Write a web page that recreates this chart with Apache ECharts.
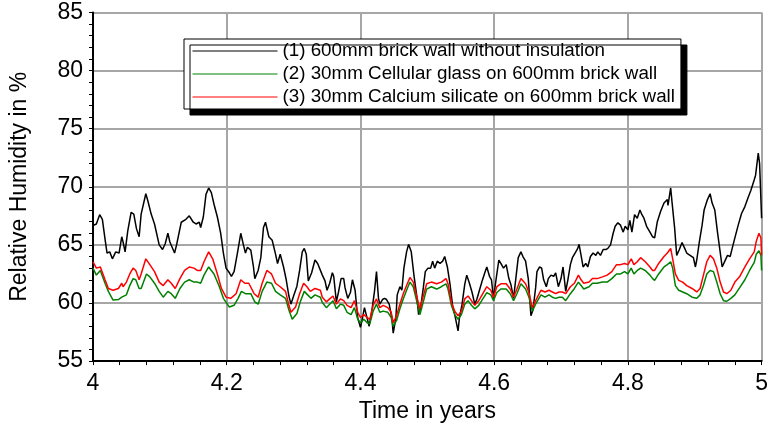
<!DOCTYPE html>
<html>
<head>
<meta charset="utf-8">
<script src="https://cdn.jsdelivr.net/npm/echarts@6/dist/echarts.min.js"></script>
<style>html,body{margin:0;padding:0;background:#fff}#c{width:771px;height:428px}</style>
</head>
<body>
<div id="c"></div>
<script>
const seriesNames = [
  '(1) 600mm brick wall without insulation',
  '(2) 30mm Cellular glass on 600mm brick wall',
  '(3) 30mm Calcium silicate on 600mm brick wall'
];
const xTicks = [4, 4.2, 4.4, 4.6, 4.8, 5];
const yTicks = [55, 60, 65, 70, 75, 80, 85];

const timeBrick = [4.000,4.005,4.010,4.014,4.018,4.021,4.025,4.029,4.034,4.039,4.043,4.045,4.048,4.052,4.057,4.061,4.065,4.069,4.072,4.079,4.082,4.087,4.092,4.099,4.104,4.108,4.112,4.115,4.122,4.125,4.132,4.139,4.144,4.150,4.154,4.159,4.161,4.165,4.169,4.173,
4.177,4.181,4.186,4.191,4.195,4.199,4.204,4.207,4.211,4.216,4.221,4.225,4.228,4.231,4.236,4.240,4.242,4.247,4.251,4.255,4.258,4.263,4.268,4.273,4.276,4.280,4.285,4.289,4.293,4.296,4.300,4.305,4.309,4.313,4.316,4.319,4.322,4.327,4.332,4.336,
4.343,4.347,4.350,4.354,4.358,4.360,4.364,4.367,4.371,4.375,4.377,4.381,4.385,4.388,4.392,4.396,4.400,4.402,4.406,4.410,4.413,4.417,4.421,4.424,4.427,4.429,4.433,4.436,4.439,4.443,4.447,4.449,4.453,4.455,4.459,4.462,4.465,4.469,4.472,4.476,4.480,4.484,4.487,4.490,4.494,4.497,4.501,
4.505,4.508,4.511,4.515,4.519,4.523,4.526,4.530,4.534,4.538,4.541,4.546,4.548,4.552,4.556,4.559,4.563,4.567,4.571,4.574,4.578,4.582,4.586,4.589,4.593,4.596,4.599,4.603,4.607,4.610,4.614,4.618,4.622,4.625,4.629,4.633,4.636,4.640,4.643,4.647,4.651,4.655,4.658,4.662,
4.664,4.668,4.671,4.674,4.678,4.681,4.685,4.689,4.692,4.696,4.700,4.703,4.707,4.710,4.714,4.717,4.721,4.725,4.727,4.730,4.733,4.737,4.740,4.744,4.748,4.752,4.755,4.759,4.763,4.767,4.770,4.774,4.778,4.781,4.785,4.789,4.793,4.796,4.800,4.803,4.806,4.810,4.814,4.818,4.821,4.824,4.828,4.833,4.837,
4.840,4.844,4.849,4.854,4.859,4.860,4.864,4.866,4.870,4.873,4.877,4.881,4.885,4.888,4.893,4.898,4.901,4.903,4.907,4.911,4.914,4.919,4.923,4.926,4.930,4.934,4.938,4.941,4.945,4.949,4.953,4.956,4.960,4.965,4.970,4.975,4.980,4.984,4.989,4.991,4.995,4.997,5.000];
const rhBrick = [66.67,66.8,67.6,67.2,65.5,64.3,64.4,63.8,64.4,64.3,65.7,65.25,64.4,66.2,67.8,67.65,66.4,65.7,67.65,69.4,68.8,67.65,66.8,65.0,64.6,65.1,66.0,65.25,64.3,65.0,66.95,67.2,67.5,66.95,66.8,66.95,66.5,67.4,69.35,69.9,
69.5,68.5,67.4,66.0,64.3,63.0,62.6,62.3,62.7,64.3,66.0,65.0,64.3,64.8,64.55,63.1,62.1,62.8,63.9,66.5,66.95,65.7,65.4,64.2,63.4,64.2,63.1,62.0,60.6,59.9,60.6,61.45,62.8,64.4,64.7,64.2,61.9,62.6,63.7,63.4,
62.4,61.9,61.1,61.7,62.6,62.3,60.1,60.9,62.1,62.1,61.3,60.4,60.9,62.0,61.1,58.7,57.9,58.4,59.6,58.7,58.0,59.3,61.0,62.7,60.4,59.9,60.3,60.4,60.3,59.9,58.7,57.4,58.7,60.7,61.4,61.1,63.0,64.4,65.05,64.4,62.4,60.7,59.0,59.6,61.3,62.7,63.0,
63.0,63.6,63.0,63.6,63.4,63.6,64.0,63.1,61.6,59.7,59.0,57.6,58.7,59.9,61.6,62.4,61.7,60.9,59.9,60.3,61.1,61.9,62.6,63.1,62.3,62.0,60.4,62.1,63.7,63.4,63.0,63.3,62.1,61.6,60.4,62.4,63.9,64.4,64.0,63.6,62.1,58.9,59.4,61.3,
62.7,63.1,63.0,62.0,61.4,62.1,62.4,62.3,62.6,61.4,62.1,63.1,61.0,61.9,63.3,63.9,64.3,64.7,65.05,64.1,63.1,63.4,63.1,64.0,64.3,64.1,64.4,64.1,64.6,64.6,64.7,65.0,66.0,66.6,66.9,66.7,66.1,66.6,66.3,67.1,66.1,67.6,67.3,68.0,67.6,67.3,66.6,66.1,65.7,
65.6,67.0,67.9,68.6,68.9,68.4,69.9,68.7,66.4,64.1,64.6,65.2,64.7,64.3,64.1,63.9,63.1,63.7,65.3,66.7,68.0,68.9,69.4,68.6,68.0,66.1,64.4,63.1,63.6,64.1,64.0,64.7,65.6,66.7,67.7,68.3,69.1,69.7,70.6,71.0,72.9,72.0,67.3];

const timeGlass = [4.000,4.005,4.011,4.018,4.023,4.030,4.038,4.043,4.045,4.050,4.055,4.060,4.064,4.069,4.072,4.080,4.085,4.092,4.099,4.105,4.112,4.117,4.123,4.130,4.137,4.144,4.151,4.156,4.161,4.166,4.173,
4.181,4.189,4.195,4.204,4.211,4.217,4.222,4.228,4.236,4.242,4.247,4.253,4.260,4.267,4.273,4.280,4.288,4.293,4.298,4.305,4.310,4.316,4.321,4.326,4.332,4.340,
4.343,4.349,4.354,4.359,4.364,4.370,4.375,4.380,4.386,4.391,4.396,4.400,4.405,4.410,4.414,4.419,4.424,4.429,4.434,4.441,4.446,4.449,4.454,4.459,4.464,4.469,4.474,4.479,4.484,4.489,4.494,
4.499,4.506,4.514,4.521,4.528,4.531,4.536,4.541,4.546,4.551,4.556,4.561,4.566,4.571,4.577,4.583,4.589,4.595,4.599,4.604,4.610,4.618,4.624,4.629,4.634,4.640,4.647,4.652,4.657,4.662,
4.670,4.676,4.682,4.687,4.692,4.697,4.702,4.707,4.714,4.720,4.726,4.730,4.734,4.742,4.747,4.754,4.762,4.769,4.776,4.783,4.789,4.795,4.800,4.805,4.809,4.814,4.819,4.826,4.833,4.837,
4.840,4.846,4.854,4.859,4.864,4.867,4.871,4.876,4.882,4.888,4.896,4.903,4.908,4.913,4.918,4.923,4.928,4.933,4.938,4.943,4.948,4.954,4.960,4.967,4.975,4.982,4.989,4.992,4.996,4.999,5.000];
const rhGlass = [63.0,62.4,62.8,61.7,61.0,60.25,60.3,60.5,60.5,60.7,61.5,62.1,62.0,61.25,61.25,62.5,62.25,61.7,61.0,60.5,61.0,60.8,60.4,61.25,61.8,62.0,61.8,61.8,61.7,62.4,63.1,
62.5,61.4,60.4,59.65,59.8,60.4,61.0,60.8,60.8,60.1,59.9,61.0,61.8,61.7,61.0,60.7,60.4,59.4,58.6,59.1,60.1,61.0,60.7,60.4,60.7,60.5,
60.05,59.6,59.9,60.2,59.5,59.9,59.8,59.2,59.0,59.6,58.6,58.3,58.6,58.3,58.2,59.3,59.9,59.2,59.3,59.2,58.75,58.0,58.5,59.5,60.35,61.1,61.8,61.4,60.2,59.0,60.1,
61.2,61.4,61.2,61.4,61.65,61.2,59.8,59.0,58.6,59.0,59.9,60.2,59.8,59.5,59.8,60.35,60.9,60.7,60.2,60.9,61.2,61.2,60.8,60.2,60.8,61.65,61.2,60.5,59.3,59.9,
60.7,60.5,60.7,60.5,60.4,60.5,60.5,60.2,60.8,61.25,61.8,61.5,61.2,61.4,61.7,61.7,61.8,61.8,62.1,62.5,62.5,62.7,62.5,63.0,62.5,62.8,63.0,62.8,62.4,62.1,
61.95,62.5,63.1,63.3,63.55,63.0,61.5,61.1,60.95,60.8,60.5,60.4,60.7,61.5,62.5,62.8,62.7,61.8,60.8,60.2,60.15,60.4,60.7,61.3,62.0,62.8,63.5,64.2,64.5,64.1,62.8];

const timeSilicate = [4.000,4.005,4.011,4.018,4.023,4.030,4.038,4.043,4.045,4.050,4.055,4.060,4.064,4.069,4.072,4.079,4.085,4.092,4.099,4.105,4.112,4.117,4.123,4.130,4.137,4.144,4.151,4.156,4.161,4.166,4.173,
4.179,4.186,4.192,4.199,4.206,4.214,4.221,4.227,4.233,4.241,4.247,4.253,4.260,4.267,4.273,4.280,4.288,4.293,4.296,4.303,4.309,4.315,4.320,4.325,4.332,4.340,
4.343,4.349,4.354,4.359,4.364,4.370,4.375,4.380,4.386,4.391,4.396,4.400,4.405,4.410,4.414,4.419,4.424,4.429,4.434,4.441,4.446,4.449,4.454,4.459,4.464,4.469,4.474,4.479,4.484,4.489,4.494,
4.499,4.506,4.514,4.521,4.528,4.531,4.536,4.541,4.546,4.551,4.556,4.561,4.566,4.571,4.577,4.583,4.589,4.595,4.599,4.604,4.610,4.618,4.624,4.629,4.634,4.640,4.647,4.652,4.657,4.662,
4.670,4.676,4.682,4.687,4.692,4.697,4.702,4.707,4.714,4.720,4.726,4.730,4.734,4.742,4.747,4.754,4.762,4.769,4.776,4.783,4.789,4.795,4.800,4.805,4.809,4.814,4.819,4.826,4.833,4.837,
4.840,4.846,4.854,4.859,4.864,4.867,4.871,4.876,4.882,4.888,4.896,4.903,4.908,4.913,4.918,4.923,4.928,4.933,4.938,4.943,4.948,4.954,4.960,4.967,4.975,4.982,4.989,4.992,4.996,4.999,5.000];
const rhSilicate = [63.55,63.0,63.1,62.0,61.25,61.1,61.25,61.7,61.4,61.8,62.5,63.0,62.8,62.0,62.5,63.8,63.3,62.7,61.8,61.5,62.0,61.7,61.25,62.1,62.8,63.1,63.0,62.8,62.8,63.55,64.4,
63.8,62.5,61.25,60.5,60.4,60.8,62.0,61.7,61.7,60.8,60.5,61.7,62.8,62.5,61.7,61.4,61.0,59.8,59.2,59.65,60.8,61.7,61.4,61.0,61.25,61.1,
60.5,60.1,60.35,60.6,59.9,60.35,60.2,59.8,59.6,60.2,59.2,58.75,59.0,58.75,58.6,59.8,60.35,59.6,59.8,59.6,59.2,58.3,58.9,59.9,60.8,61.5,62.2,61.8,60.6,59.5,60.6,
61.65,61.8,61.65,61.8,62.1,61.65,60.05,59.3,58.9,59.3,60.35,60.6,60.2,59.8,60.2,60.8,61.4,61.1,60.5,61.4,61.65,61.65,61.2,60.5,61.2,62.1,61.65,60.9,59.6,60.2,
61.1,60.95,61.1,60.95,60.8,60.95,60.95,60.8,61.4,61.7,62.4,62.0,61.7,61.8,62.1,62.1,62.25,62.4,62.7,63.3,63.3,63.4,63.3,63.8,63.3,63.55,63.9,63.55,63.1,62.8,
62.8,63.4,64.0,64.3,64.7,63.8,62.5,61.95,61.8,61.5,61.25,60.95,61.25,62.4,63.55,64.1,63.8,63.0,61.8,60.95,60.8,61.1,61.8,62.25,63.1,63.8,64.4,65.3,66.0,65.6,64.1];

const colors = ['#000000', '#008000', '#ff0000'];
const zip = (xs, ys) => xs.map((x, i) => [x, ys[i]]);
const seriesData = [zip(timeBrick, rhBrick), zip(timeGlass, rhGlass), zip(timeSilicate, rhSilicate)];

const FONT = "'Liberation Sans', Arial, sans-serif";
const chart = echarts.init(document.getElementById('c'), null, {renderer: 'canvas'});
chart.setOption({
  animation: false,
  backgroundColor: '#ffffff',
  grid: {left: 91, right: 6, top: 12.5, bottom: 65, containLabel: false},
  legend: {
    orient: 'vertical', left: 184, top: 39,
    itemWidth: 85, itemHeight: 19, itemGap: 4,
    padding: [2.5, 6, 2.5, 8],
    backgroundColor: '#ffffff', borderColor: '#000000', borderWidth: 1,
    shadowColor: '#000000', shadowBlur: 0, shadowOffsetX: 6, shadowOffsetY: 6,
    itemStyle: {opacity: 0},
    lineStyle: {width: 1},
    textStyle: {fontFamily: FONT, fontSize: 18.8, color: '#000'},
    data: seriesNames
  },
  xAxis: {
    type: 'value', min: xTicks[0], max: xTicks[xTicks.length - 1], interval: 0.2,
    name: 'Time in years', nameLocation: 'middle', nameGap: 35,
    nameTextStyle: {fontFamily: FONT, fontSize: 23, color: '#000'},
    axisLine: {show: true, onZero: false, lineStyle: {color: '#000', width: 2}},
    axisTick: {show: true, inside: false, length: 4, lineStyle: {color: '#000', width: 1}},
    minorTick: {show: true, splitNumber: 5, length: 4, lineStyle: {color: '#000', width: 1}},
    axisLabel: {fontFamily: FONT, fontSize: 23, color: '#000', margin: 11, formatter: v => String(+v.toFixed(1))},
    splitLine: {show: true, lineStyle: {color: '#a6a6a6', width: 2}}
  },
  yAxis: {
    type: 'value', min: yTicks[0], max: yTicks[yTicks.length - 1], interval: 5,
    name: 'Relative Humidity in %', nameLocation: 'middle', nameGap: 62,
    nameTextStyle: {fontFamily: FONT, fontSize: 23, color: '#000'},
    axisLine: {show: true, onZero: false, lineStyle: {color: '#000', width: 2}},
    axisTick: {show: true, inside: false, length: 4, lineStyle: {color: '#000', width: 1}},
    minorTick: {show: true, splitNumber: 5, length: 4, lineStyle: {color: '#000', width: 1}},
    axisLabel: {fontFamily: FONT, fontSize: 23, color: '#000', margin: 10},
    splitLine: {show: true, lineStyle: {color: '#a6a6a6', width: 2}}
  },
  series: seriesNames.map((n, i) => ({
    name: n, type: 'line', symbol: 'none', showSymbol: false,
    data: seriesData[i], color: colors[i],
    lineStyle: {color: colors[i], width: 1.5},
    z: 2 + i
  }))
});
</script>
</body>
</html>
